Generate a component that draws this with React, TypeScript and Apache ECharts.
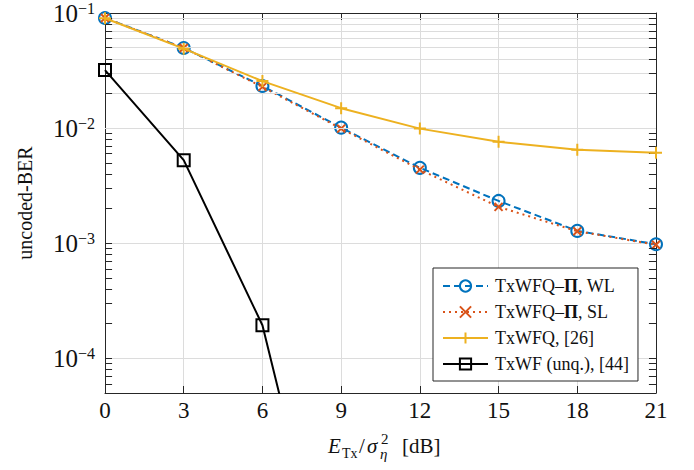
import React, { useEffect, useRef } from "react";
import * as echarts from "echarts";

// ---- data ----
const snrDb = [0, 3, 6, 9, 12, 15, 18, 21];
const berWL = [0.0905, 0.0497, 0.0232, 0.0101, 0.00452, 0.00233, 0.00128, 0.00098];
const berSL = [0.0905, 0.0497, 0.0228, 0.0099, 0.00436, 0.00207, 0.00127, 0.00097];
const berTxWFQ = [0.09, 0.049, 0.0256, 0.0149, 0.0099, 0.0076, 0.0065, 0.0061];
const snrTxWF = [0, 3, 6, 9];
const berTxWF = [0.0319, 0.00527, 0.000194, 3.2e-7];

const seriesNames = [
  "TxWFQ–Π, WL",
  "TxWFQ–Π, SL",
  "TxWFQ, [26]",
  "TxWF (unq.), [44]",
];

const xMin = 0;
const xMax = 21;
const xInterval = 3;
const yMin = 5e-5;
const yMax = 0.1;

// minor decade lines 2..9 x 10^k inside the visible range
const minorY = [
  6e-5, 7e-5, 8e-5, 9e-5,
  2e-4, 3e-4, 4e-4, 5e-4, 6e-4, 7e-4, 8e-4, 9e-4,
  2e-3, 3e-3, 4e-3, 5e-3, 6e-3, 7e-3, 8e-3, 9e-3,
  2e-2, 3e-2, 4e-2, 5e-2, 6e-2, 7e-2, 8e-2, 9e-2,
];

const FONT = "Liberation Serif";
const AX = "#262626";
const GRID = "#dcdcdc";
const TXT = "#111111";
const C_BLUE = "#0072BD";
const C_ORANGE = "#D95319";
const C_YELLOW = "#EDB120";
const C_BLACK = "#000000";

const zip = (xs: number[], ys: number[]) => xs.map((x, i) => [x, ys[i]]);

function legendLabel(name: string) {
  const i = name.indexOf("Π");
  if (i < 0) return `{n|${name}}`;
  return `{n|${name.slice(0, i)}}{b|Π}{n|${name.slice(i + 1)}}`;
}

function yLabel(v: number) {
  const l = Math.log10(v);
  const e = Math.round(l);
  if (Math.abs(l - e) > 1e-6) return "";
  return `{b|10}{s|${e < 0 ? "−" : ""}${Math.abs(e)}}`;
}

export default function App() {
  const ref = useRef<HTMLDivElement>(null);
  useEffect(() => {
    if (!ref.current) return;
    const chart = echarts.init(ref.current, undefined, { renderer: "svg" });

    const tickLen = 0.27; // in dB, short minor tick segments
    const minorGrid = minorY.map((v) => ({
      yAxis: v,
      lineStyle: { color: GRID, width: 1, type: "solid" },
    }));
    const minorTicksL = minorY.map((v) => [
      { coord: [xMin, v], lineStyle: { color: AX, width: 1, type: "solid" } },
      { coord: [xMin + tickLen, v] },
    ]);
    const minorTicksR = minorY.map((v) => [
      { coord: [xMax - tickLen, v], lineStyle: { color: AX, width: 1, type: "solid" } },
      { coord: [xMax, v] },
    ]);

    const option: any = {
      animation: false,
      backgroundColor: "#ffffff",
      textStyle: { fontFamily: FONT },
      grid: { left: 105, right: 38, top: 13, bottom: 77, containLabel: false },
      xAxis: [
        {
          type: "value",
          min: xMin,
          max: xMax,
          interval: xInterval,
          axisLine: { show: true, onZero: false, lineStyle: { color: AX, width: 1 } },
          axisTick: { show: true, inside: true, length: 7, lineStyle: { color: AX } },
          axisLabel: { fontFamily: FONT, fontSize: 23, color: TXT, margin: 6 },
          splitLine: { show: true, lineStyle: { color: GRID, width: 1 } },
        },
        {
          type: "value",
          position: "top",
          min: xMin,
          max: xMax,
          interval: xInterval,
          axisLine: { show: true, onZero: false, lineStyle: { color: AX, width: 1 } },
          axisTick: { show: true, inside: true, length: 7, lineStyle: { color: AX } },
          axisLabel: { show: false },
          splitLine: { show: false },
        },
      ],
      yAxis: [
        {
          type: "log",
          logBase: 10,
          min: yMin,
          max: yMax,
          name: "uncoded-BER",
          nameLocation: "middle",
          nameGap: 70,
          nameRotate: 90,
          nameTextStyle: { fontFamily: FONT, fontSize: 20, color: TXT },
          axisLine: { show: true, onZero: false, lineStyle: { color: AX, width: 1 } },
          axisTick: { show: true, inside: true, length: 7, lineStyle: { color: AX } },
          axisLabel: {
            formatter: yLabel,
            margin: 10,
            fontFamily: FONT,
            rich: {
              b: { fontFamily: FONT, fontSize: 25, color: TXT, lineHeight: 26, verticalAlign: "bottom" },
              s: { fontFamily: FONT, fontSize: 16, color: TXT, lineHeight: 16, verticalAlign: "top" },
            },
          },
          splitLine: { show: true, lineStyle: { color: GRID, width: 1 } },
        },
        {
          type: "log",
          logBase: 10,
          min: yMin,
          max: yMax,
          position: "right",
          axisLine: { show: true, onZero: false, lineStyle: { color: AX, width: 1 } },
          axisTick: { show: true, inside: true, length: 7, lineStyle: { color: AX } },
          axisLabel: { show: false },
          splitLine: { show: false },
        },
      ],
      legend: {
        data: seriesNames,
        orient: "vertical",
        left: 433,
        top: 268,
        align: "left",
        backgroundColor: "#ffffff",
        borderColor: AX,
        borderWidth: 1,
        borderRadius: 0,
        padding: [9, 9, 8, 9],
        itemWidth: 45,
        itemHeight: 14,
        itemGap: 8,
        formatter: legendLabel,
        textStyle: {
          fontFamily: FONT,
          fontSize: 18,
          color: TXT,
          padding: [0, 0, 0, 2],
          rich: {
            n: { fontFamily: FONT, fontSize: 18, color: TXT, lineHeight: 19 },
            b: { fontFamily: FONT, fontSize: 18, fontWeight: "bold", color: TXT, lineHeight: 19 },
          },
        },
      },
      series: [
        {
          name: "_grid",
          type: "line",
          data: [[xMin, yMax]],
          showSymbol: false,
          symbol: "none",
          lineStyle: { opacity: 0 },
          silent: true,
          z: 1,
          markLine: {
            silent: true,
            symbol: ["none", "none"],
            label: { show: false },
            emphasis: { disabled: true },
            data: [...minorGrid, ...minorTicksL, ...minorTicksR],
          },
        },
        {
          name: seriesNames[0],
          type: "line",
          data: zip(snrDb, berWL),
          symbol: "circle",
          symbolSize: 12,
          lineStyle: { color: C_BLUE, width: 2, type: [7, 4] },
          itemStyle: { color: "rgba(0,0,0,0)", borderColor: C_BLUE, borderWidth: 2 },
          z: 3,
        },
        {
          name: seriesNames[1],
          type: "line",
          data: zip(snrDb, berSL),
          symbol: "path://M0,0L10,10M10,0L0,10",
          symbolSize: 8,
          lineStyle: { color: C_ORANGE, width: 2, type: [2, 4] },
          itemStyle: { color: "rgba(0,0,0,0)", borderColor: C_ORANGE, borderWidth: 2 },
          z: 4,
        },
        {
          name: seriesNames[2],
          type: "line",
          data: zip(snrDb, berTxWFQ),
          symbol: "path://M5,0L5,10M0,5L10,5",
          symbolSize: 12,
          lineStyle: { color: C_YELLOW, width: 2, type: "solid" },
          itemStyle: { color: "rgba(0,0,0,0)", borderColor: C_YELLOW, borderWidth: 2 },
          z: 5,
        },
        {
          name: seriesNames[3],
          type: "line",
          data: zip(snrTxWF, berTxWF),
          symbol: "rect",
          symbolSize: 12,
          lineStyle: { color: C_BLACK, width: 2, type: "solid" },
          itemStyle: { color: "rgba(0,0,0,0)", borderColor: C_BLACK, borderWidth: 2 },
          z: 6,
        },
      ],
      graphic: [
        { type: "text", x: 328, y: 446, style: { text: "E", font: `italic 21px ${FONT}`, fill: TXT, verticalAlign: "middle" } },
        { type: "text", x: 342, y: 453, style: { text: "Tx", font: `14px ${FONT}`, fill: TXT, verticalAlign: "middle" } },
        { type: "text", x: 359, y: 446, style: { text: "/", font: `21px ${FONT}`, fill: TXT, verticalAlign: "middle" } },
        { type: "text", x: 367, y: 446, style: { text: "σ", font: `italic 21px ${FONT}`, fill: TXT, verticalAlign: "middle" } },
        { type: "text", x: 381, y: 439, style: { text: "2", font: `15px ${FONT}`, fill: TXT, verticalAlign: "middle" } },
        { type: "text", x: 380, y: 454, style: { text: "η", font: `italic 15px ${FONT}`, fill: TXT, verticalAlign: "middle" } },
        { type: "text", x: 402, y: 446, style: { text: "[dB]", font: `21px ${FONT}`, fill: TXT, verticalAlign: "middle" } },
      ],
    };
    chart.setOption(option);
    return () => chart.dispose();
  }, []);
  return (
    <div
      ref={ref}
      style={{ position: "absolute", left: 0, top: 0, width: 694, height: 470 }}
    />
  );
}
